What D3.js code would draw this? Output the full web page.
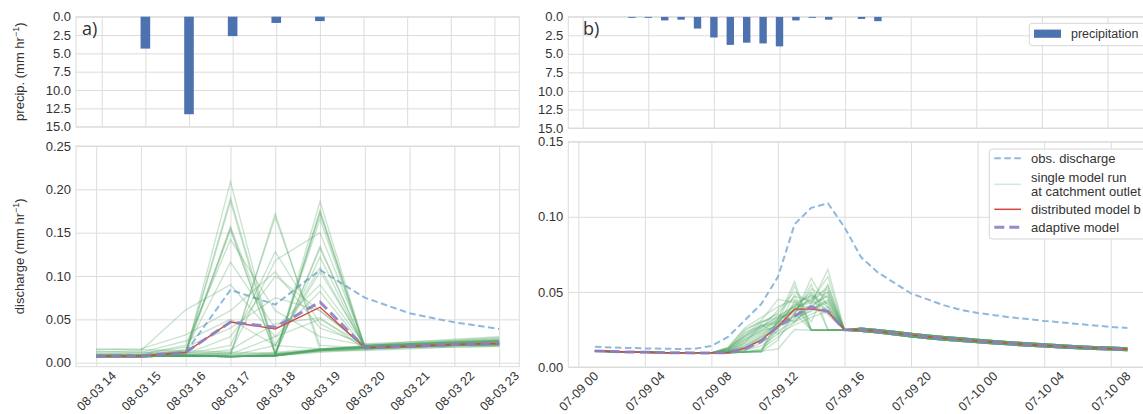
<!DOCTYPE html>
<html><head><meta charset="utf-8">
<script src="https://cdn.jsdelivr.net/npm/d3@7"></script>
<style>
body{margin:0;background:#fff}
svg{display:block}
text{font-family:"Liberation Sans",Arial,sans-serif;fill:#333}
</style>
</head><body>
<svg id="c" width="1143" height="414"></svg>
<script>
// ---------------- DATA ----------------
// Event a) hours of 08-03
const hoursA = [14,15,16,17,18,19,20,21,22,23];
const tickLabelsA = ["08-03 14","08-03 15","08-03 16","08-03 17","08-03 18","08-03 19","08-03 20","08-03 21","08-03 22","08-03 23"];
const precipA = [0,4.35,13.3,2.65,0.85,0.6,0,0,0,0];
const obsA = [0.0085,0.0085,0.012,0.084,0.067,0.107,0.075,0.057,0.0466,0.039];
const distA = [0.0077,0.0077,0.012,0.047,0.039,0.064,0.0173,0.019,0.021,0.0224];
const adaptA = [0.0077,0.0077,0.012,0.047,0.041,0.070,0.0173,0.019,0.021,0.0225];
const ensA = [
 [0.008,0.008,0.010,0.209,0.010,0.015,0.018,0.020,0.022,0.024],
 [0.008,0.008,0.011,0.190,0.012,0.016,0.019,0.021,0.023,0.025],
 [0.008,0.008,0.010,0.186,0.009,0.015,0.018,0.020,0.022,0.023],
 [0.009,0.009,0.012,0.157,0.020,0.016,0.019,0.021,0.023,0.025],
 [0.008,0.008,0.011,0.153,0.010,0.014,0.017,0.019,0.021,0.022],
 [0.008,0.009,0.014,0.155,0.009,0.015,0.018,0.020,0.022,0.024],
 [0.010,0.010,0.020,0.142,0.060,0.030,0.020,0.022,0.024,0.026],
 [0.009,0.009,0.015,0.116,0.040,0.090,0.020,0.022,0.024,0.026],
 [0.012,0.014,0.061,0.090,0.030,0.050,0.021,0.023,0.025,0.028],
 [0.015,0.016,0.032,0.060,0.105,0.040,0.022,0.024,0.026,0.029],
 [0.010,0.012,0.025,0.050,0.020,0.105,0.020,0.022,0.024,0.026],
 [0.009,0.010,0.018,0.040,0.075,0.060,0.019,0.021,0.023,0.025],
 [0.007,0.007,0.009,0.008,0.172,0.015,0.018,0.020,0.021,0.022],
 [0.007,0.007,0.009,0.010,0.168,0.020,0.017,0.019,0.021,0.022],
 [0.007,0.007,0.010,0.020,0.128,0.045,0.018,0.020,0.022,0.023],
 [0.007,0.007,0.009,0.012,0.118,0.150,0.020,0.022,0.024,0.025],
 [0.008,0.008,0.010,0.030,0.100,0.060,0.019,0.021,0.023,0.024],
 [0.007,0.007,0.008,0.007,0.008,0.186,0.018,0.019,0.020,0.021],
 [0.007,0.007,0.008,0.007,0.008,0.176,0.017,0.018,0.020,0.021],
 [0.007,0.007,0.008,0.007,0.008,0.174,0.018,0.019,0.020,0.022],
 [0.007,0.007,0.008,0.007,0.009,0.172,0.017,0.019,0.021,0.022],
 [0.007,0.007,0.008,0.007,0.010,0.166,0.016,0.018,0.020,0.021],
 [0.007,0.007,0.008,0.007,0.009,0.134,0.017,0.019,0.021,0.022],
 [0.007,0.007,0.008,0.007,0.009,0.132,0.018,0.020,0.021,0.022],
 [0.007,0.007,0.008,0.008,0.012,0.122,0.016,0.018,0.020,0.021],
 [0.007,0.007,0.008,0.008,0.020,0.110,0.018,0.020,0.021,0.022],
 [0.007,0.007,0.009,0.010,0.030,0.082,0.017,0.019,0.021,0.022],
 [0.007,0.008,0.009,0.015,0.045,0.052,0.016,0.018,0.020,0.021],
 [0.007,0.007,0.008,0.007,0.008,0.014,0.016,0.018,0.020,0.021],
 [0.007,0.007,0.008,0.007,0.008,0.015,0.017,0.019,0.021,0.022],
 [0.007,0.007,0.008,0.007,0.008,0.013,0.016,0.018,0.019,0.020],
 [0.007,0.007,0.008,0.007,0.008,0.015,0.017,0.019,0.020,0.021],
 [0.007,0.007,0.008,0.007,0.009,0.016,0.018,0.020,0.021,0.022],
 [0.007,0.007,0.008,0.007,0.008,0.012,0.015,0.017,0.018,0.019],
 [0.008,0.008,0.008,0.007,0.008,0.014,0.017,0.019,0.021,0.023],
 [0.007,0.007,0.008,0.007,0.008,0.015,0.016,0.018,0.020,0.021],
 [0.016,0.015,0.014,0.012,0.011,0.015,0.020,0.024,0.027,0.030],
 [0.013,0.012,0.012,0.010,0.010,0.014,0.019,0.022,0.025,0.027],
 [0.007,0.007,0.008,0.007,0.008,0.016,0.018,0.021,0.023,0.025],
 [0.007,0.007,0.008,0.007,0.008,0.014,0.014,0.016,0.018,0.019]
];

// Event b) hours since 07-09 00
const hoursB = [1,2,3,4,5,6,7,8,9,10,11,12,13,14,15,16,17,18,19,20,21,22,23,24,25,26,27,28,29,30,31,32,33];
const tickHoursB = [0,4,8,12,16,20,24,28,32];
const tickLabelsB = ["07-09 00","07-09 04","07-09 08","07-09 12","07-09 16","07-09 20","07-10 00","07-10 04","07-10 08"];
const precipIdxB = [0,1,2,3,4,5,6,7,8,9,10,11,12,13,14,15,16,17,18];
const precipB = [0,0,0,0.15,0.15,0.5,0.4,1.6,2.8,3.8,3.5,3.6,4.0,0.5,0.15,0.4,0,0.3,0.6];
const obsB = [0.0135,0.013,0.0127,0.0124,0.0122,0.012,0.0122,0.014,0.020,0.031,0.042,0.060,0.095,0.106,0.109,0.093,0.073,0.063,0.056,0.049,0.045,0.041,0.038,0.036,0.0345,0.033,0.032,0.0307,0.0297,0.0287,0.0277,0.0267,0.026];
const distB = [0.0106,0.0103,0.0100,0.0098,0.0096,0.0095,0.0094,0.0094,0.0095,0.0125,0.018,0.027,0.0385,0.0385,0.037,0.0248,0.0248,0.0238,0.0225,0.0212,0.0201,0.0191,0.0182,0.0173,0.0165,0.0157,0.0150,0.0143,0.0137,0.0131,0.0126,0.0122,0.0118];
const adaptB = [0.0106,0.0103,0.0100,0.0098,0.0096,0.0095,0.0094,0.0094,0.0095,0.012,0.017,0.027,0.034,0.040,0.037,0.0248,0.0248,0.0238,0.0225,0.0212,0.0201,0.0191,0.0182,0.0173,0.0165,0.0157,0.0150,0.0143,0.0137,0.0131,0.0126,0.0122,0.0118];
// ensemble b: common start (h1-h8), individual rise (h9-h16), recession variants (h17-h33)
const ensBHead = [0.0106,0.0103,0.0100,0.0098,0.0096,0.0095,0.0094,0.0094];
const ensBMid = [
 [0.0095,0.0100,0.0110,0.032,0.057,0.0247,0.0247,0.0247],
 [0.0095,0.0100,0.0110,0.030,0.054,0.0245,0.0245,0.0245],
 [0.0095,0.0100,0.0105,0.028,0.048,0.0250,0.0245,0.0246],
 [0.0100,0.0140,0.0210,0.030,0.040,0.050,0.036,0.0246],
 [0.0110,0.0180,0.0250,0.032,0.038,0.045,0.050,0.0246],
 [0.0120,0.0220,0.0300,0.035,0.030,0.042,0.065,0.0247],
 [0.0100,0.0160,0.0280,0.022,0.035,0.059,0.040,0.0246],
 [0.0130,0.0260,0.0330,0.040,0.045,0.030,0.055,0.0247],
 [0.0110,0.0200,0.0280,0.030,0.033,0.037,0.045,0.0246],
 [0.0100,0.0150,0.0220,0.028,0.034,0.040,0.048,0.0246],
 [0.0120,0.0240,0.0310,0.045,0.043,0.047,0.040,0.0247],
 [0.0110,0.0190,0.0260,0.034,0.040,0.044,0.038,0.0246],
 [0.0100,0.0130,0.0190,0.027,0.031,0.038,0.043,0.0246],
 [0.0095,0.0110,0.0160,0.024,0.030,0.035,0.040,0.0246],
 [0.0100,0.0170,0.0240,0.032,0.036,0.052,0.046,0.0246],
 [0.0120,0.0210,0.0290,0.036,0.047,0.044,0.060,0.0247],
 [0.0095,0.0100,0.0120,0.020,0.030,0.040,0.050,0.0246],
 [0.0100,0.0120,0.0180,0.030,0.041,0.0248,0.0246,0.0246],
 [0.0095,0.0100,0.0100,0.018,0.036,0.0245,0.0245,0.0245],
 [0.0095,0.0100,0.0100,0.025,0.044,0.0242,0.0245,0.0245],
 [0.0110,0.0180,0.0240,0.027,0.032,0.049,0.0250,0.0246],
 [0.0100,0.0140,0.0200,0.026,0.039,0.043,0.054,0.0246],
 [0.0130,0.0250,0.0300,0.033,0.037,0.041,0.035,0.0246],
 [0.0095,0.0110,0.0140,0.022,0.028,0.033,0.037,0.0246],
 [0.0120,0.0230,0.0270,0.029,0.042,0.039,0.044,0.0246],
 [0.0095,0.0100,0.0105,0.012,0.025,0.0245,0.0245,0.0245],
 [0.0105,0.0160,0.0230,0.031,0.038,0.046,0.052,0.0246],
 [0.0115,0.0210,0.0270,0.033,0.041,0.048,0.042,0.0247],
 [0.0100,0.0130,0.0200,0.029,0.035,0.055,0.0248,0.0246],
 [0.0125,0.0200,0.0260,0.038,0.050,0.042,0.047,0.0246]
];
const ensBTails = [
 [0.0248,0.0238,0.0225,0.0212,0.0201,0.0191,0.0182,0.0173,0.0165,0.0157,0.0150,0.0143,0.0137,0.0131,0.0126,0.0122,0.0118],
 [0.0238,0.0227,0.0214,0.0201,0.0190,0.0180,0.0171,0.0163,0.0155,0.0147,0.0140,0.0134,0.0128,0.0123,0.0118,0.0114,0.0110],
 [0.0258,0.0249,0.0236,0.0223,0.0212,0.0202,0.0193,0.0184,0.0175,0.0167,0.0160,0.0153,0.0147,0.0140,0.0135,0.0131,0.0127]
];
const ensB = ensBMid.map((m,i)=>ensBHead.concat(m, ensBTails[i%3]));

const yTicksP = [0,2.5,5,7.5,10,12.5,15];
const yTicksQA = [0,0.05,0.10,0.15,0.20,0.25];
const yTicksQB = [0,0.05,0.10,0.15];
const vGridB = [0,4,8,12,16,20,24,28,32];

// ---------------- STYLE ----------------
const GRID = "#dcdcdc", TXT = "#333";
const FONT = '"Liberation Sans",Arial,sans-serif';
const C_BAR = "#4c72b0", C_OBS = "#8fb8de", C_ENS = "#4fa463", C_DIST = "#d64541", C_ADAPT = "#8e7fc0";
const ENS_OP = 0.3, ENS_W = 1.4;

const svg = d3.select("#c");

// ---------------- SCALES ----------------
const xAt = d3.scaleLinear().domain([13.41,23.57]).range([76,519.3]);
const yAt = d3.scaleLinear().domain([0,15]).range([16.7,126.7]);
const xAb = d3.scaleLinear().domain([13.55,23.45]).range([76,519.3]);
const yAb = d3.scaleLinear().domain([-0.0046,0.25]).range([366.7,146]);
const xBt = d3.scaleLinear().domain([-0.878,35.81]).range([568.3,1170]);
const yBt = d3.scaleLinear().domain([0,15]).range([16.7,128]);
const xBb = d3.scaleLinear().domain([-0.6,34.6]).range([568.3,1154]);
const yBb = d3.scaleLinear().domain([0,0.15]).range([367,141.7]);

function frame(xs, ys, xt, yt, yfmt, id){
  const xr = xs.range(), yr = ys.range();
  const L = Math.min(...xr), R = Math.max(...xr), T = Math.min(...yr), B = Math.max(...yr);
  const g = svg.append("g");
  const ay = g.append("g").attr("transform",`translate(${L},0)`)
    .call(d3.axisLeft(ys).tickValues(yt).tickSize(-(R-L)).tickPadding(5).tickFormat(yfmt));
  ay.select(".domain").remove();
  ay.selectAll(".tick line").attr("stroke",GRID);
  ay.selectAll(".tick text").attr("fill",TXT).style("font-size","13px").style("font-family",FONT);
  const ax = g.append("g").attr("transform",`translate(0,${B})`)
    .call(d3.axisBottom(xs).tickValues(xt).tickSize(-(B-T)).tickFormat(""));
  ax.select(".domain").remove();
  ax.selectAll(".tick line").attr("stroke",GRID);
  g.append("rect").attr("x",L).attr("y",T).attr("width",R-L).attr("height",B-T)
    .attr("fill","none").attr("stroke",GRID).attr("stroke-width",1);
  svg.append("clipPath").attr("id",id).append("rect").attr("x",L).attr("y",T).attr("width",R-L).attr("height",B-T);
  return {L,R,T,B,ax};
}

function xLabels(ax, labels){
  ax.selectAll(".tick").each(function(d,i){
    d3.select(this).select("text")
      .text(labels[i])
      .attr("y",0).attr("dy",null)
      .attr("transform","translate(0,24.5) rotate(-45)")
      .attr("text-anchor","middle").attr("dominant-baseline","central")
      .attr("fill",TXT).style("font-size","12.5px").style("font-family",FONT);
  });
}

// ---------------- PANEL a ----------------
frame(xAt, yAt, hoursA, yTicksP, d3.format(".1f"), "clipAt");
svg.append("g").selectAll("rect").data(hoursA.map((h,i)=>({h,v:precipA[i]})).filter(d=>d.v>0)).join("rect")
  .attr("x",d=>xAt(d.h)-4.8).attr("width",9.6)
  .attr("y",yAt(0)).attr("height",d=>yAt(d.v)-yAt(0)).attr("fill",C_BAR);

const fAb = frame(xAb, yAb, hoursA, yTicksQA, d3.format(".2f"), "clipAb");
xLabels(fAb.ax, tickLabelsA);

const lineA = d3.line().x((d,i)=>xAb(hoursA[i])).y(d=>yAb(d));
const gA = svg.append("g").attr("clip-path","url(#clipAb)");
gA.append("path").attr("d",lineA(obsA)).attr("fill","none").attr("stroke",C_OBS).attr("stroke-width",2).attr("stroke-dasharray","6.5,3.5");
gA.selectAll(".ens").data(ensA).join("path").attr("d",d=>lineA(d)).attr("fill","none")
  .attr("stroke",C_ENS).attr("stroke-opacity",ENS_OP).attr("stroke-width",ENS_W);
gA.append("path").attr("d",lineA(distA)).attr("fill","none").attr("stroke",C_DIST).attr("stroke-width",1.4);
gA.append("path").attr("d",lineA(adaptA)).attr("fill","none").attr("stroke",C_ADAPT).attr("stroke-width",3).attr("stroke-dasharray","10,5").attr("stroke-opacity",0.9);

// ---------------- PANEL b ----------------
frame(xBt, yBt, vGridB, yTicksP, d3.format(".1f"), "clipBt");
svg.append("g").attr("clip-path","url(#clipBt)").selectAll("rect")
  .data(precipIdxB.map((h,i)=>({h,v:precipB[i]})).filter(d=>d.v>0)).join("rect")
  .attr("x",d=>xBt(d.h)-3.7).attr("width",7.4)
  .attr("y",yBt(0)).attr("height",d=>yBt(d.v)-yBt(0)).attr("fill",C_BAR);

const fBb = frame(xBb, yBb, tickHoursB, yTicksQB, d3.format(".2f"), "clipBb");
xLabels(fBb.ax, tickLabelsB);

const lineB = d3.line().x((d,i)=>xBb(hoursB[i])).y(d=>yBb(d));
const gB = svg.append("g").attr("clip-path","url(#clipBb)");
gB.append("path").attr("d",lineB(obsB)).attr("fill","none").attr("stroke",C_OBS).attr("stroke-width",2).attr("stroke-dasharray","6.5,3.5");
gB.selectAll(".ens").data(ensB).join("path").attr("d",d=>lineB(d)).attr("fill","none")
  .attr("stroke",C_ENS).attr("stroke-opacity",ENS_OP).attr("stroke-width",ENS_W);
gB.append("path").attr("d",lineB(distB)).attr("fill","none").attr("stroke",C_DIST).attr("stroke-width",1.4);
gB.append("path").attr("d",lineB(adaptB)).attr("fill","none").attr("stroke",C_ADAPT).attr("stroke-width",3).attr("stroke-dasharray","10,5").attr("stroke-opacity",0.9);

// ---------------- LABELS ----------------
function yLabel(cx, cy, main){
  const t = svg.append("text").attr("transform",`translate(${cx},${cy}) rotate(-90)`)
    .attr("text-anchor","middle").style("font-size","13px").attr("fill",TXT);
  t.append("tspan").text(main);
  t.append("tspan").text("\u22121").attr("baseline-shift","super").style("font-size","9px");
  t.append("tspan").text(")");
}
yLabel(24, 71.7, "precip. (mm hr");
yLabel(24, 256.3, "discharge (mm hr");

svg.append("text").attr("x",82).attr("y",35).text("a)")
  .style("font-family",'"Open Sans",sans-serif').style("font-size","18px").attr("fill","#111");
svg.append("text").attr("x",583).attr("y",34.5).text("b)")
  .style("font-family",'"Open Sans",sans-serif').style("font-size","18px").attr("fill","#111");

// ---------------- LEGENDS ----------------
const lg1 = svg.append("g");
lg1.append("rect").attr("x",1029.3).attr("y",23.3).attr("width",160).attr("height",22.4).attr("rx",3)
  .attr("fill","#fff").attr("fill-opacity",0.85).attr("stroke","#d6d6d6");
lg1.append("rect").attr("x",1034).attr("y",29.6).attr("width",27).attr("height",8.2).attr("fill",C_BAR);
lg1.append("text").attr("x",1071).attr("y",34).attr("dy","0.35em").text("precipitation").style("font-size","12.5px").attr("fill",TXT);

const lg2 = svg.append("g");
lg2.append("rect").attr("x",989.3).attr("y",149).attr("width",200).attr("height",90).attr("rx",3)
  .attr("fill","#fff").attr("fill-opacity",0.85).attr("stroke","#d6d6d6");
const items = [
  {y:158.3, stroke:C_OBS, w:2, dash:"6.5,3.5", op:1, texts:[["obs. discharge",158.3]]},
  {y:184.3, stroke:C_ENS, w:1.5, dash:null, op:0.25, texts:[["single model run",177],["at catchment outlet",191.7]]},
  {y:209.3, stroke:C_DIST, w:1.5, dash:null, op:1, texts:[["distributed model b",209.3]]},
  {y:227.3, stroke:C_ADAPT, w:3, dash:"10,5", op:0.9, texts:[["adaptive model",227.3]]}
];
items.forEach(it=>{
  lg2.append("line").attr("x1",994.3).attr("x2",1021).attr("y1",it.y).attr("y2",it.y)
    .attr("stroke",it.stroke).attr("stroke-width",it.w).attr("stroke-opacity",it.op)
    .attr("stroke-dasharray",it.dash);
  it.texts.forEach(([s,y])=>{
    lg2.append("text").attr("x",1031).attr("y",y).attr("dy","0.35em").text(s).style("font-size","13px").attr("fill",TXT);
  });
});
</script>
</body></html>
